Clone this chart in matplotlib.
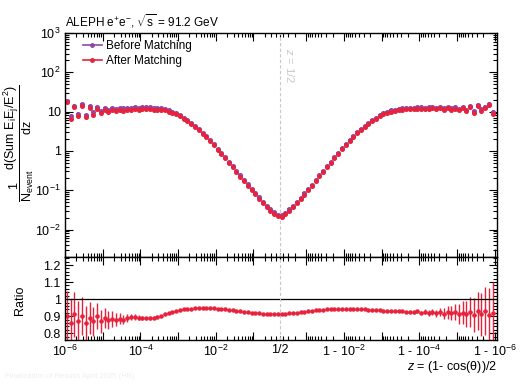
import numpy as np
import matplotlib
matplotlib.use('Agg')
import matplotlib.pyplot as plt
import matplotlib.transforms as mtransforms
from matplotlib.lines import Line2D
from matplotlib.ticker import FixedLocator, FixedFormatter, NullFormatter

plt.rcParams['font.family'] = ['Liberation Sans', 'DejaVu Sans']
plt.rcParams['mathtext.fontset'] = 'custom'
plt.rcParams['mathtext.rm'] = 'Liberation Sans'
plt.rcParams['mathtext.it'] = 'Liberation Sans:italic'
plt.rcParams['mathtext.default'] = 'regular'

# log10 of "Before Matching", z < 1/2 (from z = 1e-6 towards 1/2)
log_before_left = [1.28, 0.88, 1.15, 0.95, 1.20, 0.92, 1.14, 0.98, 1.12, 1.02,
                   1.10, 1.04, 1.09, 1.06, 1.10, 1.08, 1.10, 1.09, 1.11, 1.10,
                   1.11, 1.11, 1.11, 1.10, 1.10, 1.09, 1.07, 1.04, 1.00, 0.96,
                   0.91, 0.85, 0.78, 0.71, 0.63, 0.55, 0.46, 0.37, 0.27, 0.17,
                   0.06, -0.05, -0.16, -0.27, -0.38, -0.50, -0.62, -0.73, -0.85, -0.96,
                   -1.07, -1.18, -1.29, -1.39, -1.48, -1.56, -1.62]
# log10 of "Before Matching", z > 1/2 (from 1/2 towards 1 - 1e-6)
log_before_right = [-1.63, -1.57, -1.49, -1.40, -1.30, -1.19, -1.08, -0.97, -0.86, -0.74,
                    -0.62, -0.50, -0.38, -0.27, -0.15, -0.04, 0.07, 0.18, 0.28, 0.38,
                    0.47, 0.56, 0.64, 0.72, 0.79, 0.85, 0.91, 0.96, 1.00, 1.03,
                    1.05, 1.07, 1.08, 1.09, 1.10, 1.10, 1.11, 1.11, 1.10, 1.11,
                    1.12, 1.10, 1.12, 1.09, 1.13, 1.08, 1.11, 1.07, 1.13, 1.05,
                    1.14, 1.02, 1.18, 1.06, 1.12, 1.20, 0.98]

# After / Before
ratio_left = [0.90, 0.86, 0.91, 0.87, 0.90, 0.86, 0.89, 0.87, 0.90, 0.87,
              0.89, 0.875, 0.885, 0.88, 0.885, 0.88, 0.89, 0.895, 0.897, 0.892,
              0.888, 0.887, 0.889, 0.892, 0.897, 0.903, 0.910, 0.917, 0.924, 0.930,
              0.935, 0.939, 0.942, 0.944, 0.945, 0.946, 0.946, 0.946, 0.946, 0.945,
              0.944, 0.942, 0.940, 0.938, 0.935, 0.932, 0.929, 0.926, 0.923, 0.921,
              0.919, 0.917, 0.915, 0.914, 0.913, 0.913, 0.913]
ratio_err_left = [0.15, 0.14, 0.13, 0.12, 0.11, 0.10, 0.095, 0.085, 0.075, 0.068,
                  0.06, 0.053, 0.046, 0.04, 0.034, 0.029, 0.024, 0.02, 0.017, 0.014,
                  0.012, 0.010, 0.009, 0.008, 0.007, 0.006, 0.005, 0.005, 0.004, 0.004,
                  0.004, 0.003, 0.003, 0.003, 0.003, 0.003, 0.003, 0.003, 0.003, 0.003,
                  0.003, 0.003, 0.003, 0.003, 0.003, 0.003, 0.003, 0.003, 0.003, 0.003,
                  0.003, 0.003, 0.003, 0.003, 0.003, 0.003, 0.003]
ratio_right = [0.913, 0.914, 0.916, 0.918, 0.920, 0.922, 0.925, 0.928, 0.931, 0.934,
               0.936, 0.938, 0.940, 0.941, 0.942, 0.943, 0.943, 0.943, 0.942, 0.942,
               0.941, 0.940, 0.939, 0.938, 0.937, 0.936, 0.934, 0.933, 0.932, 0.931,
               0.930, 0.929, 0.928, 0.927, 0.926, 0.923, 0.929, 0.921, 0.927, 0.918,
               0.925, 0.916, 0.924, 0.914, 0.922, 0.917, 0.925, 0.913, 0.921, 0.910,
               0.925, 0.905, 0.928, 0.910, 0.930, 0.905, 0.920]
ratio_err_right = [0.003, 0.003, 0.003, 0.003, 0.003, 0.003, 0.003, 0.003, 0.003, 0.003,
                   0.003, 0.003, 0.003, 0.003, 0.003, 0.003, 0.003, 0.003, 0.003, 0.003,
                   0.003, 0.003, 0.003, 0.003, 0.003, 0.003, 0.003, 0.003, 0.003, 0.003,
                   0.004, 0.004, 0.005, 0.005, 0.006, 0.008, 0.009, 0.011, 0.013, 0.016,
                   0.019, 0.022, 0.026, 0.031, 0.036, 0.042, 0.049, 0.057, 0.066, 0.076,
                   0.087, 0.099, 0.112, 0.126, 0.142, 0.16, 0.18]

purple = '#9048a8'
red = '#e8223c'
grey = '#c8c8c8'

# 57 log bins from 1e-6 to 1/2, mirrored in 1 - z
nbins = 57
edges = np.logspace(-6, np.log10(0.5), nbins + 1)
centers = np.sqrt(edges[:-1] * edges[1:])
LH = np.log10(0.5)

# plot coordinate: log10(z) below 1/2, mirrored -log10(1-z) above
u = np.concatenate([np.log10(centers), 2 * LH - np.log10(centers[::-1])])
u_lo = np.concatenate([np.log10(edges[:-1]), 2 * LH - np.log10(edges[1:][::-1])])
u_hi = np.concatenate([np.log10(edges[1:]), 2 * LH - np.log10(edges[:-1][::-1])])
xerr = [u - u_lo, u_hi - u]

before = 10 ** np.array(log_before_left + log_before_right)
ratio = np.array(ratio_left + ratio_right)
ratio_err = np.array(ratio_err_left + ratio_err_right)
after = before * ratio
err_before = before * ratio_err * 0.7
err_after = after * ratio_err * 0.7

fig = plt.figure(figsize=(5.29, 3.84), dpi=100)
ax = fig.add_axes([0.1229, 0.3307, 0.8166, 0.5833])
ax2 = fig.add_axes([0.1229, 0.1146, 0.8166, 0.2161])

ax.errorbar(u, before, yerr=err_before, xerr=xerr, fmt='o', ms=2.6, color=purple,
            mec=purple, elinewidth=1.3, capsize=0)
ax.errorbar(u, after, yerr=err_after, xerr=xerr, fmt='o', ms=2.6, color=red,
            mec=red, elinewidth=1.3, capsize=0)
ax.set_yscale('log')
ax.set_ylim(2e-3, 1e3)

ax2.errorbar(u, ratio, yerr=ratio_err, xerr=xerr, fmt='o', ms=2.2, color=red,
             mec=red, elinewidth=1.0, capsize=0)
ax2.axhline(1.0, color='black', lw=0.9)
ax2.set_ylim(0.76, 1.247)

for a in (ax, ax2):
    a.set_xlim(-6, 5.46)
    a.axvline(LH, color=grey, ls=(0, (3, 2)), lw=0.8)
    for s in a.spines.values():
        s.set_linewidth(1.0)

# x ticks
dec = np.array([1e-6, 1e-5, 1e-4, 1e-3, 1e-2, 1e-1])
major_u = list(np.log10(dec)) + list(2 * LH - np.log10(dec[::-1]))
minor_u = []
for n in range(-6, 0):
    for k in range(2, 10):
        v = k * 10.0 ** n
        if v < 0.5:
            minor_u.append(np.log10(v))
            minor_u.append(2 * LH - np.log10(v))
major_lab = ['10$^{-6}$', '', '10$^{-4}$', '', '10$^{-2}$', '',
             '', '1 - 10$^{-2}$', '', '1 - 10$^{-4}$', '', '1 - 10$^{-6}$']

ax.xaxis.set_major_locator(FixedLocator(major_u))
ax.xaxis.set_minor_locator(FixedLocator(minor_u + [LH]))
ax.xaxis.set_major_formatter(NullFormatter())
ax2.xaxis.set_major_locator(FixedLocator(major_u + [LH]))
ax2.xaxis.set_minor_locator(FixedLocator(minor_u))
ax2.xaxis.set_major_formatter(FixedFormatter(major_lab + ['1/2']))

# y ticks
ymaj = [1e-2, 1e-1, 1, 10, 100, 1000]
ymin = [k * 10.0 ** n for n in range(-3, 3) for k in range(2, 10)]
ax.yaxis.set_major_locator(FixedLocator(ymaj))
ax.yaxis.set_minor_locator(FixedLocator(ymin))
ax.yaxis.set_major_formatter(FixedFormatter(['10$^{-2}$', '10$^{-1}$', '1', '10', '10$^{2}$', '10$^{3}$']))
ax.yaxis.set_minor_formatter(NullFormatter())

ax2.yaxis.set_major_locator(FixedLocator([0.8, 0.9, 1.0, 1.1, 1.2]))
ax2.yaxis.set_major_formatter(FixedFormatter(['0.8', '0.9', '1', '1.1', '1.2']))
ax2.yaxis.set_minor_locator(FixedLocator(np.arange(0.76, 1.25, 0.02)))

for a in (ax, ax2):
    a.tick_params(which='both', direction='in', top=True, right=True,
                  labelsize=9, width=0.8, pad=3)
    a.tick_params(which='major', length=6)
    a.tick_params(which='minor', length=3)

# the 1/2 tick is short
for t, v in zip(ax2.xaxis.get_major_ticks(), major_u + [LH]):
    if abs(v - LH) < 1e-6:
        t.tick1line.set_markersize(3)
        t.tick2line.set_markersize(3)

# texts
ax.text(0.0, 1.027, r'ALEPH e$^{+}$e$^{-}$, $\sqrt{s}$ = 91.2 GeV', transform=ax.transAxes,
        fontsize=8.5, ha='left', va='baseline')
trans = mtransforms.blended_transform_factory(ax.transData, ax.transAxes)
ax.text(-0.2, 0.935, r'$\mathit{z}$ = 1/2', rotation=-90, color=grey, fontsize=8,
        transform=trans, ha='left', va='top')

handles = [Line2D([], [], color=purple, marker='o', ms=2.5, lw=1.2),
           Line2D([], [], color=red, marker='o', ms=2.5, lw=1.2)]
ax.legend(handles, ['Before Matching', 'After Matching'], loc='upper left',
          bbox_to_anchor=(0.025, 1.0), frameon=False, fontsize=8.5,
          handlelength=1.6, handletextpad=0.35, labelspacing=0.25, borderaxespad=0.2)

fig.text(19 / 529, 1 - 143 / 384,
         r'$\dfrac{1}{N_{event}}\dfrac{d(Sum\ E_{i}E_{j}/E^{2})}{dz}$',
         rotation=90, ha='center', va='center', fontsize=9)
fig.text(20 / 529, 1 - 300 / 384, 'Ratio', rotation=90, ha='center', va='center', fontsize=9)
ax2.text(1.0, -0.33, r'$\mathit{z}$ = (1- cos($\theta$))/2', transform=ax2.transAxes,
         ha='right', va='center', fontsize=9)
fig.text(5 / 529, 1 - 377 / 384, 'Finalization of Results April 2025 (HB)',
         color='#eeeeee', fontsize=5.5, ha='left', va='center')

fig.savefig('out.png', dpi=100)
